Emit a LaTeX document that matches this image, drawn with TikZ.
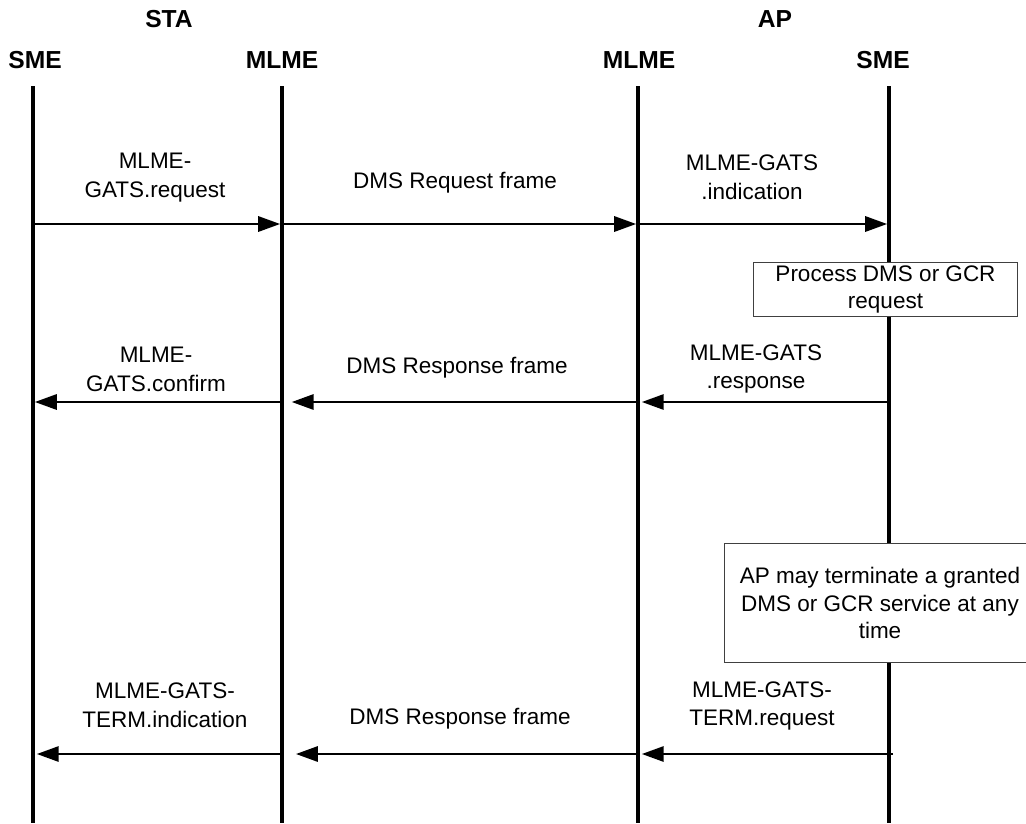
\documentclass[tikz,border=0pt]{standalone}
\usepackage{fontspec}
\setmainfont{Liberation Sans}
\usetikzlibrary{arrows.meta, positioning}

\begin{document}
\begin{tikzpicture}[
    x=0.025cm, y=-0.025cm,
    head/.style={font=\bfseries\fontsize{17.5}{20}\selectfont, inner sep=0pt},
    lbl/.style={align=center, inner sep=0pt,
      font=\fontsize{16}{20.5}\selectfont},
    note/.style={rectangle, draw=black!75, line width=0.7pt, fill=white,
      align=center, inner sep=0pt, font=\fontsize{16}{19.5}\selectfont},
    life/.style={line width=2.8pt},
    msg/.style={-{Triangle[length=15.5pt, width=11pt]}, line width=1.1pt}
  ]
  \clip (0,0) rectangle (1026,823);

  % headings
  \node[head] (sta) at (169,19) {STA};
  \node[head] (ap)  at (775,19) {AP};
  \node[head] (stasmehd)  at (35,60)  {SME};
  \node[head] (stamlmehd) at (282,60) {MLME};
  \node[head] (apmlmehd)  at (639,60) {MLME};
  \node[head] (apsmehd)   at (883,60) {SME};

  % lifelines and message rows
  \foreach \n/\x in {stasme/33, stamlme/282, apmlme/638, apsme/889} {
    \coordinate (\n-top) at (\x,86);
    \coordinate (\n-bot) at (\x,823);
    \coordinate (\n-1) at (\x,224);
    \coordinate (\n-2) at (\x,402);
    \coordinate (\n-3) at (\x,754);
    \draw[life] (\n-top) -- (\n-bot);
  }

  % notes on the AP side
  \node[note, minimum width=187.8pt, minimum height=39pt] (proc) at (885.5,289.5)
        {Process DMS or GCR\\request};
  \node[note, minimum width=221pt, minimum height=85pt] (term) at (880,603)
        {AP may terminate a granted\\DMS or GCR service at any\\time};

  % request
  \draw[msg, shorten >=1.4pt] (stasme-1) -- (stamlme-1);
  \draw[msg, shorten >=1.4pt] (stamlme-1) -- (apmlme-1);
  \draw[msg, shorten >=1.4pt] (apmlme-1) -- (apsme-1);
  \node[lbl] (req1) at (155,178) {MLME-\\GATS.request};
  \node[lbl] (req2) at (455,183) {DMS Request frame};
  \node[lbl] (req3) at (752,177) {MLME-GATS\\.indication};

  % response
  \draw[msg, shorten >=2.8pt] (apsme-2) -- (apmlme-2);
  \draw[msg, shorten >=7pt] (apmlme-2) -- (stamlme-2);
  \draw[msg, shorten >=1.4pt] (stamlme-2) -- (stasme-2);
  \node[lbl] (rsp1) at (156,369) {MLME-\\GATS.confirm};
  \node[lbl] (rsp2) at (457,368) {DMS Response frame};
  \node[lbl] (rsp3) at (756,369) {MLME-GATS\\.response};

  % termination
  \draw[msg, shorten <=-3pt, shorten >=2.8pt] (apsme-3) -- (apmlme-3);
  \draw[msg, shorten >=10pt] (apmlme-3) -- (stamlme-3);
  \draw[msg, shorten <=1.4pt, shorten >=2.8pt] (stamlme-3) -- (stasme-3);
  \node[lbl] (trm1) at (165,705) {MLME-GATS-\\TERM.indication};
  \node[lbl] (trm2) at (460,719) {DMS Response frame};
  \node[lbl] (trm3) at (762,706) {MLME-GATS-\\TERM.request};
\end{tikzpicture}
\end{document}
